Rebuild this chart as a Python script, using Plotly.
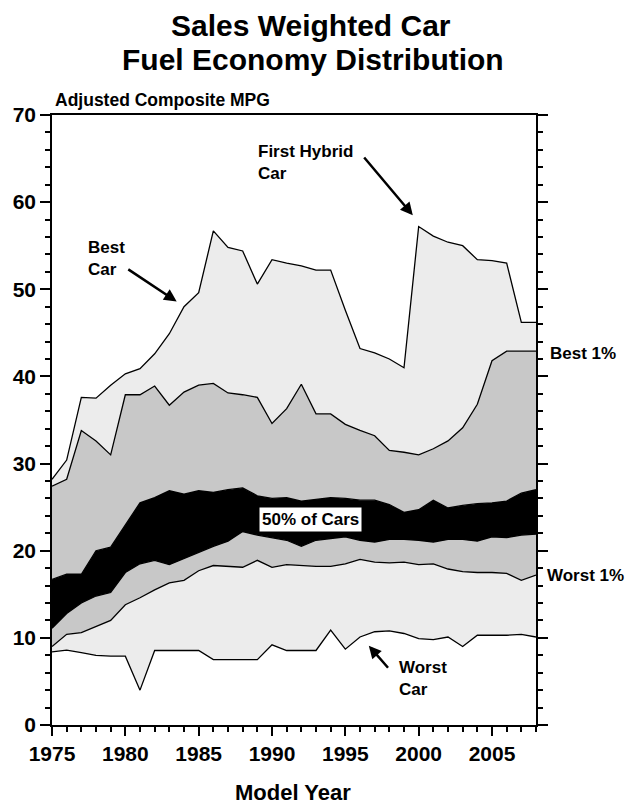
import plotly.graph_objects as go

# Sales weighted car fuel economy distribution (adjusted composite MPG)
years = list(range(1975, 2009))

worst_car = [8.4, 8.6, 8.3, 8.0, 7.9, 7.9, 4.0, 8.55, 8.55, 8.55,
             8.55, 7.5, 7.5, 7.5, 7.5, 9.2, 8.55, 8.55, 8.55, 10.9,
             8.7, 10.1, 10.7, 10.8, 10.5, 9.9, 9.8, 10.1, 9.0, 10.3,
             10.3, 10.3, 10.4, 10.1]
worst_1pct = [9.0, 10.4, 10.6, 11.3, 12.0, 13.8, 14.6, 15.5, 16.3, 16.6,
              17.7, 18.3, 18.2, 18.1, 18.9, 18.1, 18.4, 18.3, 18.2, 18.2,
              18.5, 19.0, 18.7, 18.6, 18.7, 18.4, 18.5, 17.9, 17.6, 17.5,
              17.5, 17.4, 16.6, 17.2]
pct_25 = [11.1, 12.8, 14.0, 14.8, 15.2, 17.5, 18.5, 18.9, 18.4, 19.1,
          19.8, 20.5, 21.1, 22.2, 21.8, 21.5, 21.2, 20.5, 21.2, 21.4,
          21.6, 21.2, 21.0, 21.3, 21.3, 21.2, 21.0, 21.3, 21.3, 21.1,
          21.6, 21.5, 21.8, 21.9]
pct_75 = [16.7, 17.3, 17.3, 20.0, 20.4, 23.0, 25.5, 26.1, 26.9, 26.5,
          26.9, 26.7, 27.0, 27.2, 26.3, 26.0, 26.1, 25.7, 25.9, 26.1,
          26.0, 25.8, 25.8, 25.3, 24.4, 24.7, 25.8, 24.9, 25.2, 25.4,
          25.5, 25.7, 26.6, 27.0]
best_1pct = [27.4, 28.2, 33.8, 32.6, 31.0, 37.9, 37.9, 38.9, 36.7, 38.2,
             39.0, 39.2, 38.1, 37.9, 37.6, 34.6, 36.3, 39.1, 35.7, 35.7,
             34.5, 33.8, 33.2, 31.5, 31.3, 31.0, 31.7, 32.6, 34.1, 36.8,
             41.8, 42.9, 42.9, 42.9]
best_car = [28.2, 30.4, 37.6, 37.5, 39.0, 40.3, 40.9, 42.6, 44.9, 48.0,
            49.6, 56.7, 54.8, 54.4, 50.6, 53.4, 53.0, 52.7, 52.2, 52.2,
            47.6, 43.2, 42.7, 42.0, 41.0, 57.2, 56.1, 55.4, 55.0, 53.4,
            53.3, 53.0, 46.2, 46.2]

FONT = "Liberation Sans, Arial, sans-serif"
dots = dict(shape=".", size=2, solidity=0.5, fgcolor="#a6a6a6", bgcolor="white")
line = dict(color="black", width=1.3)

fig = go.Figure()
fig.add_trace(go.Scatter(x=years, y=worst_car, mode="lines", line=line))
fig.add_trace(go.Scatter(x=years, y=worst_1pct, mode="lines", line=line,
                         fill="tonexty", fillcolor="white", fillpattern=dots))
fig.add_trace(go.Scatter(x=years, y=pct_25, mode="lines", line=line,
                         fill="tonexty", fillcolor="#c8c8c8"))
fig.add_trace(go.Scatter(x=years, y=pct_75, mode="lines", line=line,
                         fill="tonexty", fillcolor="black"))
fig.add_trace(go.Scatter(x=years, y=best_1pct, mode="lines", line=line,
                         fill="tonexty", fillcolor="#c8c8c8"))
fig.add_trace(go.Scatter(x=years, y=best_car, mode="lines", line=line,
                         fill="tonexty", fillcolor="white", fillpattern=dots))

def label(text, x, y, **kw):
    args = dict(x=x, y=y, text="<b>" + text + "</b>", showarrow=False,
                xanchor="left", yanchor="middle", align="left",
                font=dict(family=FONT, size=17, color="black"))
    args.update(kw)
    fig.add_annotation(**args)

def arrow(x0, y0, x1, y1):
    fig.add_annotation(x=x1, y=y1, ax=x0, ay=y0, xref="x", yref="y",
                       axref="x", ayref="y", text="", showarrow=True,
                       arrowhead=2, arrowsize=1, arrowwidth=2.5, arrowcolor="black")

# title, one annotation per line to keep the tight line spacing
title_font = dict(family=FONT, size=30, color="black")
label("Sales Weighted Car", 0.535, 1.147, xref="paper", yref="paper",
      xanchor="center", font=title_font)
label("Fuel Economy Distribution", 0.54, 1.091, xref="paper", yref="paper",
      xanchor="center", font=title_font)

label("Best<br>Car", 1977.3, 53.5)
arrow(1980.1, 52.4, 1983.5, 48.6)
label("First Hybrid<br>Car", 1988.9, 64.6)
arrow(1996.2, 65.3, 1999.6, 58.5)
label("Worst<br>Car", 1998.5, 5.3)
arrow(1998.0, 6.4, 1996.6, 9.1)
label("50% of Cars", 1992.6, 23.6, xanchor="center", bgcolor="white", borderpad=2)
label("Best 1%", 1.025, 42.6, xref="paper")
label("Worst 1%", 1.018, 17.2, xref="paper")
label("Adjusted Composite MPG", 0.002, 1.025, xref="paper", yref="paper",
      font=dict(family=FONT, size=17.5, color="black"))
label("Model Year", 0.4986, -0.11, xref="paper", yref="paper",
      xanchor="center", font=dict(family=FONT, size=22, color="black"))

fig.update_xaxes(range=[1975, 2008], dtick=5, tick0=1975, ticks="outside",
                 ticklen=9, tickwidth=1.5, tickcolor="black",
                 minor=dict(dtick=1, ticks="outside", ticklen=5, tickcolor="black"),
                 showline=True, linecolor="black", linewidth=1.5, mirror=True,
                 showgrid=False, zeroline=False, automargin=False,
                 tickfont=dict(family=FONT, size=21, color="black", weight="bold"))
fig.update_yaxes(range=[0, 70], dtick=10, ticks="outside",
                 ticklen=10, tickwidth=1.5, tickcolor="black",
                 minor=dict(dtick=2, ticks="outside", ticklen=5, tickcolor="black"),
                 showline=True, linecolor="black", linewidth=1.5, mirror="ticks",
                 showgrid=False, zeroline=False, automargin=False,
                 tickfont=dict(family=FONT, size=21, color="black", weight="bold"))

fig.update_layout(
    width=626, height=804,
    margin=dict(l=52, r=90, t=115, b=79),
    plot_bgcolor="white", paper_bgcolor="white",
    showlegend=False,
)

# drop the default page margin so the figure sits at the window's corner
fig.write_html("out.html", config={"displayModeBar": False},
               post_script="document.body.style.margin='0px';")
